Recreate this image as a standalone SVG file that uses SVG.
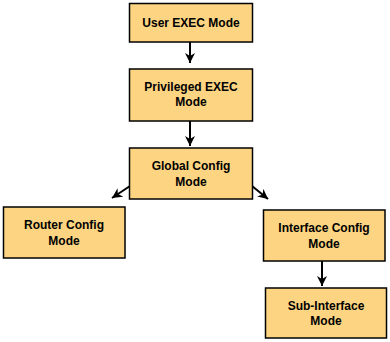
<svg xmlns="http://www.w3.org/2000/svg" width="390" height="342" viewBox="0 0 390 342">
  <defs>
    <style>
      .box { fill: #fdd582; stroke: #000; stroke-width: 1.5; }
      .lbl { font-family: "Liberation Sans", Arial, sans-serif; font-weight: bold; font-size: 12px; fill: #000; text-anchor: middle; }
      .edge { stroke: #000; stroke-width: 2; fill: none; marker-end: url(#arrow); }
    </style>
    <marker id="arrow" markerUnits="userSpaceOnUse" markerWidth="11" markerHeight="10" refX="10" refY="5" orient="auto" viewBox="0 0 11 10">
      <path d="M0,0 L10,5 L0,10 L3,5 z" fill="#000"/>
    </marker>
  </defs>
  <rect width="390" height="342" fill="#fff"/>
  <g id="connectors">
    <line class="edge" x1="190" y1="42" x2="190" y2="63"/>
    <line class="edge" x1="190" y1="121" x2="190" y2="146"/>
    <line class="edge" x1="130" y1="186" x2="112" y2="198"/>
    <line class="edge" x1="252" y1="186" x2="268" y2="199"/>
    <line class="edge" x1="322" y1="261" x2="322" y2="286"/>
  </g>
  <g id="user-exec">
    <rect class="box" x="129.5" y="3.5" width="123" height="38.5"/>
    <text class="lbl" x="191" y="27">User EXEC Mode</text>
  </g>
  <g id="privileged-exec">
    <rect class="box" x="129.5" y="69" width="123" height="52"/>
    <text class="lbl" x="191" y="91">Privileged EXEC</text>
    <text class="lbl" x="191" y="106">Mode</text>
  </g>
  <g id="global-config">
    <rect class="box" x="129.5" y="148" width="123" height="51"/>
    <text class="lbl" x="191" y="170">Global Config</text>
    <text class="lbl" x="191" y="186">Mode</text>
  </g>
  <g id="router-config">
    <rect class="box" x="3.5" y="207" width="121.5" height="51"/>
    <text class="lbl" x="64" y="229">Router Config</text>
    <text class="lbl" x="64" y="245">Mode</text>
  </g>
  <g id="interface-config">
    <rect class="box" x="263.5" y="210" width="121.5" height="51"/>
    <text class="lbl" x="324" y="232">Interface Config</text>
    <text class="lbl" x="324" y="248">Mode</text>
  </g>
  <g id="sub-interface">
    <rect class="box" x="265.5" y="288" width="121" height="50"/>
    <text class="lbl" x="326" y="310">Sub-Interface</text>
    <text class="lbl" x="326" y="325">Mode</text>
  </g>
</svg>
